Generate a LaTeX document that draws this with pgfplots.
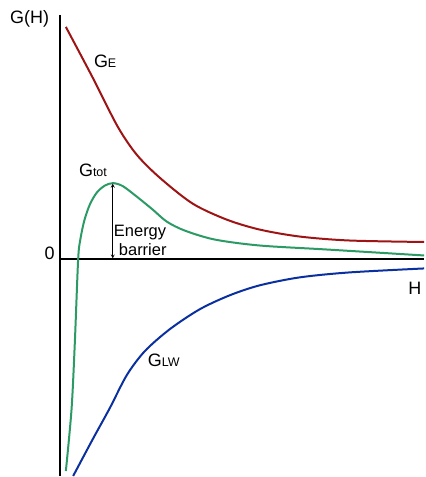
\documentclass[border=0pt]{standalone}
\usepackage{pgfplots}
\pgfplotsset{compat=1.18}
\usepackage{fontspec}
\setmainfont{Liberation Sans}
\definecolor{cred}{HTML}{9E1414}
\definecolor{cgreen}{HTML}{2B9A64}
\definecolor{cblue}{HTML}{0A30A0}
\newcommand{\bigf}{\fontsize{18}{20}\selectfont}
\newcommand{\smf}{\fontsize{12.5}{14}\selectfont}
\begin{document}
\begin{tikzpicture}
\begin{axis}[
  width=425pt, height=477pt, scale only axis,
  xmin=0, xmax=425, ymin=0, ymax=477, y dir=reverse,
  axis lines=none, clip=false,
]
\path (axis cs:0,0) rectangle (axis cs:425,477);
% axes
\addplot[black, line width=2pt] coordinates {(60,15) (60,477)};
\addplot[black, line width=2pt] coordinates {(60,260) (425,260)};
% G_E
\addplot[cred, line width=2pt, smooth, tension=0.5] coordinates {
(66,27) (93,78) (118,127) (137,155) (160,178) (193,204) (227,220) (260,230) (300,237) (350,241) (425,242.5)};
% G_tot
\addplot[cgreen, line width=2pt, smooth, tension=0.5] coordinates {
(66,472) (71.7,410) (75,343) (78.3,260) (80.5,240) (84.5,221) (90,205) (97,193) (105,186) (113.3,183.5) (123,186.5) (137,197) (153,210) (167,222) (185,231) (215,240) (260,246) (327,250) (425,256)};
% G_LW
\addplot[cblue, line width=2pt, smooth, tension=0.5] coordinates {
(73.3,477) (93,440) (110,409) (127,376) (145,352) (170,330) (200,310) (230,296) (260,286) (300,278) (350,273) (425,269)};
% energy barrier arrow
\draw[<->, >=stealth, black, line width=0.8pt] (axis cs:113,184) -- (axis cs:113,259);
% labels
\node[anchor=base west, inner sep=0pt] at (axis cs:10,24) {\bigf G(H)};
\node[anchor=base east, inner sep=0pt] at (axis cs:55,260) {\bigf 0};
\node[anchor=base west, inner sep=0pt] at (axis cs:409,295) {\bigf H};
\node[anchor=base west, inner sep=0pt] at (axis cs:94,68) {\bigf G\smf E};
\node[anchor=base west, inner sep=0pt] at (axis cs:79,177) {\bigf G\smf tot};
\node[anchor=base west, inner sep=0pt] at (axis cs:148,367) {\bigf G\smf LW};
\node[anchor=base west, inner sep=0pt] at (axis cs:114,237) {\fontsize{16.5}{18}\selectfont Energy};
\node[anchor=base west, inner sep=0pt] at (axis cs:119,256) {\fontsize{16.5}{18}\selectfont barrier};
\end{axis}
\end{tikzpicture}
\end{document}
